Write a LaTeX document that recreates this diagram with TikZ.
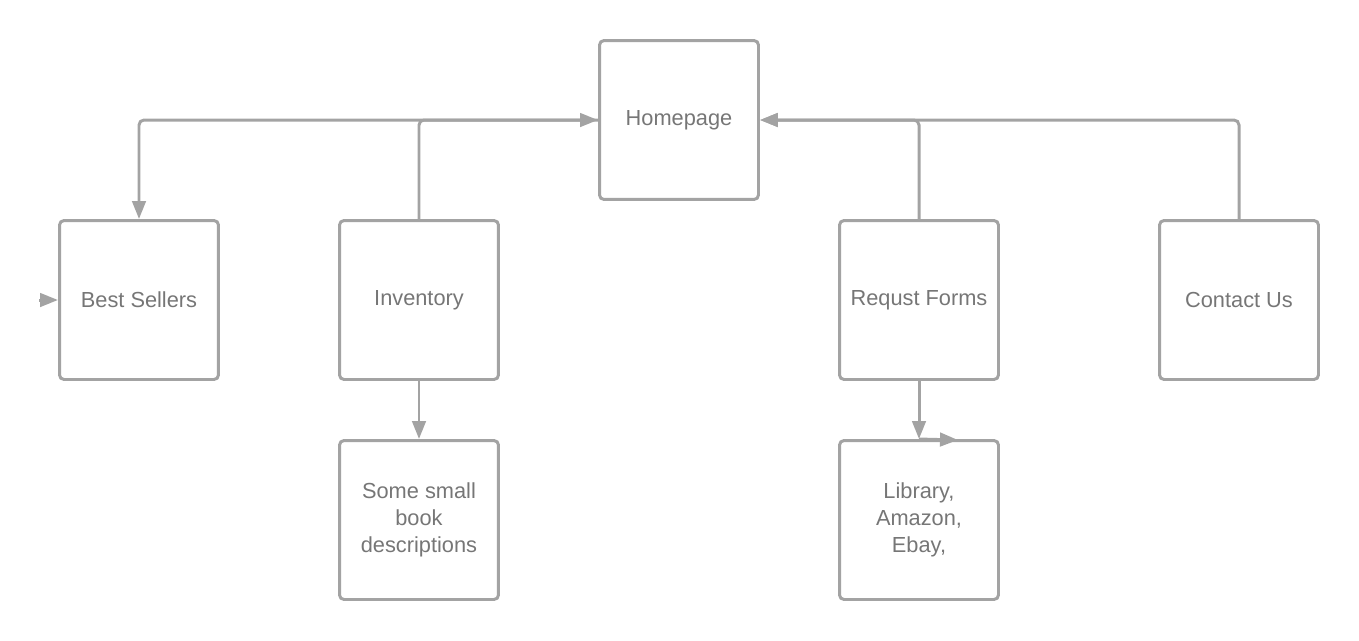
\documentclass[tikz,border=0pt]{standalone}
\usepackage{fontspec}
\setmainfont{Liberation Sans}
\usetikzlibrary{arrows.meta,positioning}
\definecolor{linegray}{RGB}{163,163,163}
\definecolor{textgray}{RGB}{118,118,118}

\begin{document}
\begin{tikzpicture}[x=0.02cm,y=-0.02cm]
\tikzstyle{page}=[draw=linegray, line width=1.7pt, rounded corners=0.09cm,
  minimum width=3.18cm, minimum height=3.18cm, align=center,
  text=textgray, font=\fontsize{12.4}{15.5}\selectfont, inner sep=2pt]
\tikzstyle{link}=[draw=linegray, line width=1.7pt, rounded corners=0.1cm,
  -{Triangle[length=0.36cm,width=0.27cm]}]
\useasboundingbox (0,0) rectangle (1359,640);
% boxes
\node [page] (home) at (679,120) {Homepage};
\node [page] (best) at (139,300) {Best Sellers};
\node [page] (inv) at (419,300) {Inventory};
\node [page] (req) at (919,300) {Requst Forms};
\node [page] (contact) at (1239,300) {Contact Us};
\node [page] (desc) at (419,520) {Some small\\book\\descriptions};
\node [page] (lib) at (919,520) {Library,\\Amazon,\\Ebay,};
% loose ends
\coordinate (bestin) at (39,300);
\coordinate (libend) at (958,440);
% links
\draw [link] (home.west) -| (best.north);
\draw [link] (inv.north) |- (home.west);
\draw [link] (req.north) |- (home.east);
\draw [link] (contact.north) |- (home.east);
\draw [link] (inv.south) -- (desc.north);
\draw [link] (req.south) -- (lib.north);
\draw [link] (bestin) -- (best.west);
\draw [link] (lib.north) -- (libend);
\end{tikzpicture}
\end{document}
